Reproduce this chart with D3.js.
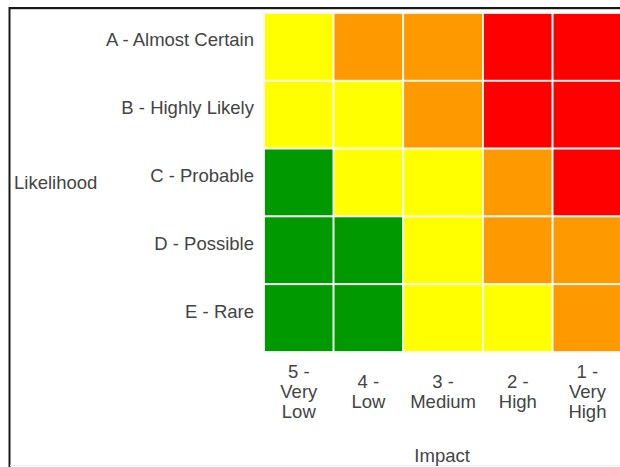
<!DOCTYPE html>
<html>
<head>
<meta charset="utf-8">
<script src="https://cdn.jsdelivr.net/npm/d3@7"></script>
<style>
  html, body { margin: 0; padding: 0; background: #fff; }
  svg { display: block; }
  text { font-family: "Liberation Sans", Arial, sans-serif; fill: #444; }
</style>
</head>
<body>
<svg id="chart" width="620" height="467"></svg>
<script>
// ---- data ----
const likelihood = ["A - Almost Certain", "B - Highly Likely", "C - Probable", "D - Possible", "E - Rare"];
const impact = ["5 - Very Low", "4 - Low", "3 - Medium", "2 - High", "1 - Very High"];
// risk level per cell (1 = low / green, 2 = medium / yellow, 3 = high / orange, 4 = extreme / red)
const rowA = [2, 3, 3, 4, 4];
const rowB = [2, 2, 3, 4, 4];
const rowC = [1, 2, 2, 3, 4];
const rowD = [1, 1, 2, 3, 3];
const rowE = [1, 1, 2, 2, 3];
const levels = [1, 2, 3, 4];
const levelColors = ["#009900", "#ffff00", "#ff9900", "#ff0000"];
const yTitle = "Likelihood";
const xTitle = "Impact";

const matrix = [rowA, rowB, rowC, rowD, rowE];

const svg = d3.select("#chart");
const W = 620, H = 467;
const fontSize = 18.5;

// frame
svg.append("line").attr("x1", 9).attr("x2", W + 10).attr("y1", 8).attr("y2", 8)
  .attr("stroke", "#1a1a1a").attr("stroke-width", 2);
svg.append("line").attr("x1", 9).attr("x2", W + 10).attr("y1", 9.5).attr("y2", 9.5)
  .attr("stroke", "#cfcfcf").attr("stroke-width", 1);
svg.append("line").attr("x1", 9.5).attr("x2", 9.5).attr("y1", 7).attr("y2", H + 2)
  .attr("stroke", "#1a1a1a").attr("stroke-width", 2);
svg.append("line").attr("x1", 10).attr("x2", W + 10).attr("y1", 465.5).attr("y2", 465.5)
  .attr("stroke", "#ececec").attr("stroke-width", 1);

const plotLeft = 264, plotTop = 13, plotBottom = 352;

// split impact labels into lines
function labelLines(s) {
  const t = s.split(" ");
  return [t[0] + " " + t[1]].concat(t.slice(2));
}

// measure widest line of each impact label to size its column
const meas = svg.append("text").style("font-size", fontSize + "px");
const textW = impact.map(lab => d3.max(labelLines(lab), l => { meas.text(l); return meas.node().getComputedTextLength(); }));
meas.remove();
const minCol = 69.6, pad = 14;
const colW = textW.map(w => Math.max(minCol, w + pad));
const starts = [0].concat(Array.from(d3.cumsum(colW))).map(v => plotLeft + v);
const plotRight = starts[starts.length - 1];

const x = d3.scaleOrdinal().domain(impact).range(starts.slice(0, impact.length));
const xw = d3.scaleOrdinal().domain(impact).range(colW);
const y = d3.scaleBand().domain(likelihood).range([plotTop, plotBottom]).padding(0);
const color = d3.scaleOrdinal().domain(levels).range(levelColors);

// cells
const cells = [];
likelihood.forEach((r, i) => impact.forEach((c, j) => cells.push({ r, c, v: matrix[i][j] })));
svg.append("g").selectAll("rect").data(cells).join("rect")
  .attr("x", d => x(d.c)).attr("y", d => y(d.r))
  .attr("width", d => xw(d.c)).attr("height", y.bandwidth())
  .attr("fill", d => color(d.v))
  .attr("stroke", "#f7f7f7").attr("stroke-width", 1.8);

// y labels
svg.append("g").selectAll("text").data(likelihood).join("text")
  .attr("x", 254).attr("y", d => y(d) + y.bandwidth() / 2 - 0.5)
  .attr("text-anchor", "end")
  .style("font-size", fontSize + "px")
  .text(d => d);

// x labels
const lh = 20;
const xl = svg.append("g").selectAll("text").data(impact).join("text")
  .attr("text-anchor", "middle")
  .style("font-size", fontSize + "px");
xl.each(function (d) {
  const lines = labelLines(d);
  const cx = x(d) + xw(d) / 2;
  const mid = 398;
  const first = mid - (lines.length - 1) * lh / 2;
  d3.select(this).selectAll("tspan").data(lines).join("tspan")
    .attr("x", cx).attr("y", (l, k) => first + k * lh)
    .text(l => l);
});

// axis titles
svg.append("text")
  .attr("x", 14).attr("y", (plotTop + plotBottom) / 2 + 6)
  .style("font-size", fontSize + "px")
  .text(yTitle);
svg.append("text")
  .attr("x", (plotLeft + plotRight) / 2 - 1).attr("y", 462)
  .attr("text-anchor", "middle")
  .style("font-size", fontSize + "px")
  .text(xTitle);
</script>
</body>
</html>
